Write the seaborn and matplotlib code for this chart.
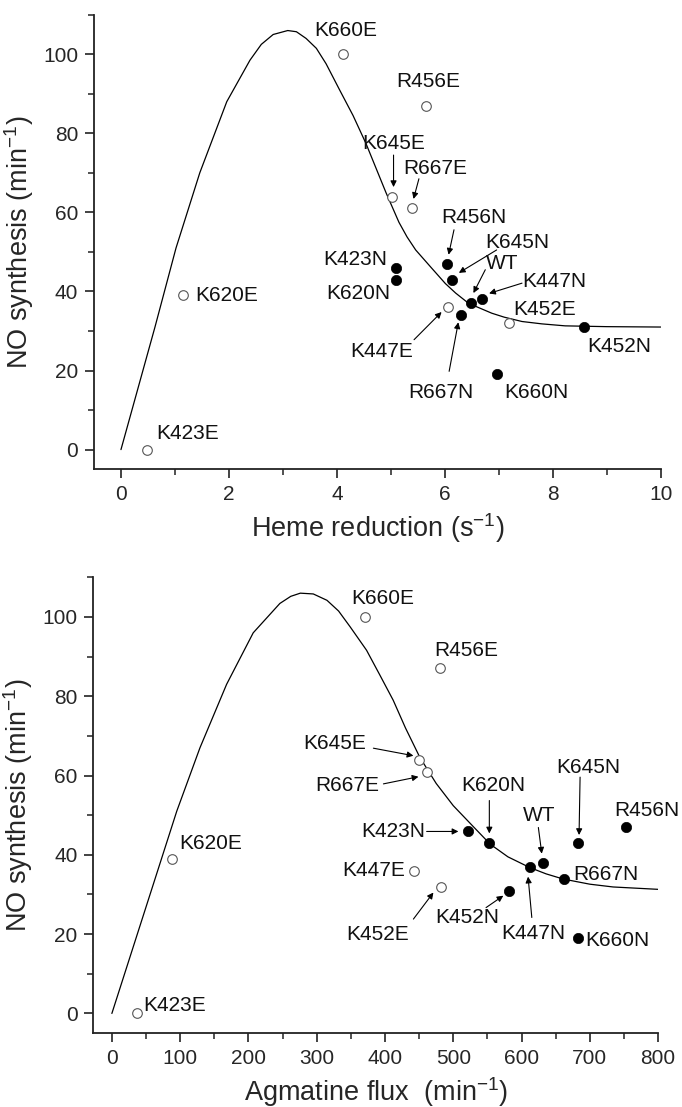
import matplotlib
matplotlib.use("Agg")
import matplotlib.pyplot as plt
import seaborn as sns
from matplotlib.ticker import MultipleLocator

# ---------------- data ----------------
# Top panel: heme reduction (s^-1) vs NO synthesis (min^-1)
top_E_labels = ['K423E', 'K620E', 'K660E', 'R456E', 'K645E', 'R667E', 'K447E', 'K452E']
top_E_x = [0.48, 1.15, 4.11, 5.65, 5.03, 5.40, 6.06, 7.19]
top_E_y = [0, 39, 100, 87, 64, 61, 36, 32]

top_N_labels = ['K423N', 'K620N', 'R456N', 'K645N', 'WT', 'K447N', 'R667N', 'K660N', 'K452N']
top_N_x = [5.09, 5.09, 6.04, 6.13, 6.49, 6.68, 6.30, 6.96, 8.57]
top_N_y = [46, 43, 47, 43, 37, 38, 34, 19, 31]

top_curve_x = [0, 0.63, 1.02, 1.46, 1.96, 2.39, 2.60, 2.82, 3.09, 3.25, 3.43, 3.62,
               3.80, 4.05, 4.30, 4.54, 4.91, 5.15, 5.30, 5.46, 5.75, 6.01, 6.20,
               6.44, 6.87, 7.10, 7.43, 7.80, 8.23, 9.0, 10.0]
top_curve_y = [0, 31, 51, 70, 88, 98.5, 102.5, 105, 106, 105.7, 104, 101.5,
               97.6, 91, 84.5, 77.4, 65, 57.5, 53.8, 50.5, 46, 42, 39.6,
               37, 34.5, 33.5, 32.4, 31.8, 31.3, 31.1, 31]

# Bottom panel: agmatine flux (min^-1) vs NO synthesis (min^-1)
bot_E_labels = ['K423E', 'K620E', 'K660E', 'R456E', 'K645E', 'R667E', 'K447E', 'K452E']
bot_E_x = [37, 88, 371, 481, 450, 461, 442, 482]
bot_E_y = [0, 39, 100, 87, 64, 61, 36, 32]

bot_N_labels = ['K423N', 'K620N', 'R456N', 'K645N', 'WT', 'K447N', 'R667N', 'K660N', 'K452N']
bot_N_x = [521, 552, 753, 682, 632, 612, 662, 682, 582]
bot_N_y = [46, 43, 47, 43, 38, 37, 34, 19, 31]

bot_curve_x = [0, 95, 129, 168, 207, 246, 262, 276, 295, 315, 332, 349, 373, 392,
               412, 430, 451, 475, 500, 530, 554, 580, 612, 636, 661, 700, 734, 800]
bot_curve_y = [0, 51, 67, 83, 96, 103.4, 105.2, 106, 105.8, 104.2, 101.5, 97.5,
               91.6, 85.5, 79, 72, 64.6, 58, 52.4, 47, 42.7, 39.5, 36.8, 35.2,
               33.9, 32.6, 31.9, 31.3]

# ---------------- style ----------------
sns.set_theme(style="ticks")
plt.rcParams['font.family'] = ['Liberation Sans', 'DejaVu Sans']
plt.rcParams['mathtext.fontset'] = 'custom'
plt.rcParams['mathtext.rm'] = 'Liberation Sans'
plt.rcParams['mathtext.it'] = 'Liberation Sans:italic'
plt.rcParams['axes.unicode_minus'] = False

LABEL_FS = 15
TICK_FS = 15
AXIS_FS = 19.5

fig = plt.figure(figsize=(6.82, 11.07), dpi=100)
ax1 = fig.add_axes([0.1378, 0.576, 0.831, 0.4107])
ax2 = fig.add_axes([0.137, 0.0666, 0.828, 0.4119])


def style_axis(ax):
    for s in ['top', 'right']:
        ax.spines[s].set_visible(False)
    for s in ['left', 'bottom']:
        ax.spines[s].set_linewidth(1.3)
        ax.spines[s].set_color('#222222')
    ax.tick_params(which='major', direction='out', length=6.5, width=1.2,
                   labelsize=TICK_FS, pad=5, color='#222222')
    ax.tick_params(which='minor', direction='out', length=4, width=1.1, color='#222222')
    ax.set_ylim(-5, 110)
    ax.yaxis.set_major_locator(MultipleLocator(20))
    ax.yaxis.set_minor_locator(MultipleLocator(10))
    ax.set_ylabel('NO synthesis (min$^{-1}$)', fontsize=AXIS_FS, labelpad=5)


def draw_points(ax, ex, ey, nx, ny, cx, cy):
    sns.lineplot(x=cx, y=cy, sort=False, estimator=None, color='black',
                 linewidth=0.9, ax=ax, zorder=1)
    sns.scatterplot(x=ex, y=ey, ax=ax, marker='o', s=48, facecolor='white',
                    edgecolor='#555555', linewidth=0.8, zorder=3)
    sns.scatterplot(x=nx, y=ny, ax=ax, marker='o', s=55, color='black',
                    edgecolor='black', linewidth=0.5, zorder=3)


def arrow(ax, tail, tip):
    ax.annotate('', xy=tip, xytext=tail,
                arrowprops=dict(arrowstyle='-|>', color='black', lw=0.8,
                                mutation_scale=9, shrinkA=0, shrinkB=0),
                zorder=2)


def label(ax, text, x, y, ha='center'):
    ax.text(x, y, text, fontsize=LABEL_FS, ha=ha, va='center', color='#111111')


# ---------------- top panel ----------------
draw_points(ax1, top_E_x, top_E_y, top_N_x, top_N_y, top_curve_x, top_curve_y)
style_axis(ax1)
ax1.set_xlim(-0.5, 10)
ax1.xaxis.set_major_locator(MultipleLocator(2))
ax1.xaxis.set_minor_locator(MultipleLocator(1))
ax1.set_xlabel('Heme reduction (s$^{-1}$)', fontsize=AXIS_FS, labelpad=5)

label(ax1, 'K660E', 4.16, 106)
label(ax1, 'R456E', 5.70, 93)
label(ax1, 'K645E', 5.06, 77.5)
arrow(ax1, (5.05, 74.5), (5.05, 66.4))
label(ax1, 'R667E', 5.83, 71.2)
arrow(ax1, (5.52, 68.5), (5.42, 63.4))
label(ax1, 'K620E', 1.37, 38.9, ha='left')
label(ax1, 'K423E', 1.23, 4)
label(ax1, 'K423N', 4.34, 48)
label(ax1, 'K620N', 4.40, 39.4)
label(ax1, 'R456N', 6.54, 58.6)
arrow(ax1, (6.17, 55.6), (6.07, 49.3))
label(ax1, 'K645N', 7.35, 52.3)
arrow(ax1, (6.96, 50.5), (6.26, 44.7))
label(ax1, 'WT', 7.07, 47.1)
arrow(ax1, (6.75, 45.5), (6.53, 39.6))
label(ax1, 'K447N', 8.03, 42.5)
arrow(ax1, (7.43, 42.1), (6.82, 39.5))
label(ax1, 'K452E', 7.84, 35.5)
label(ax1, 'K452N', 9.23, 26.1)
label(ax1, 'K660N', 7.69, 14.5)
label(ax1, 'R667N', 5.92, 14.5)
arrow(ax1, (6.08, 19.8), (6.25, 32.2))
label(ax1, 'K447E', 4.83, 24.8)
arrow(ax1, (5.43, 27.8), (5.94, 34.8))

# ---------------- bottom panel ----------------
draw_points(ax2, bot_E_x, bot_E_y, bot_N_x, bot_N_y, bot_curve_x, bot_curve_y)
style_axis(ax2)
ax2.set_xlim(-27, 800)
ax2.xaxis.set_major_locator(MultipleLocator(100))
ax2.xaxis.set_minor_locator(MultipleLocator(50))
ax2.set_xlabel('Agmatine flux  (min$^{-1}$)', fontsize=AXIS_FS, labelpad=5)

label(ax2, 'K660E', 396.5, 104.7)
label(ax2, 'R456E', 519, 91.5)
label(ax2, 'K645E', 327, 68)
arrow(ax2, (383, 66.9), (441.6, 65))
label(ax2, 'R667E', 344, 57.5)
arrow(ax2, (397.7, 57.9), (449, 59.7))
label(ax2, 'K620E', 145, 42.9)
label(ax2, 'K423E', 91.3, 2.1)
label(ax2, 'K447E', 430, 36, ha='right')
label(ax2, 'K452E', 389, 20)
arrow(ax2, (441.6, 23.8), (470.9, 30.5))
label(ax2, 'K423N', 458.7, 45.9, ha='right')
arrow(ax2, (461, 45.9), (507.5, 45.9))
label(ax2, 'K620N', 558.7, 57.5)
arrow(ax2, (552.8, 53.7), (552.8, 45.4))
label(ax2, 'WT', 625.6, 49.9)
arrow(ax2, (624.6, 46.9), (629.6, 40.3))
label(ax2, 'K645N', 697.4, 62.1)
arrow(ax2, (685.7, 59.6), (684.2, 45.0))
label(ax2, 'R456N', 783, 51.3)
label(ax2, 'R667N', 676, 35, ha='left')
label(ax2, 'K452N', 519.8, 24.2)
arrow(ax2, (548, 26.7), (573.3, 29.7))
label(ax2, 'K447N', 617.3, 20.1)
arrow(ax2, (615, 24.2), (609.5, 34.5))
label(ax2, 'K660N', 693, 18.5, ha='left')

fig.savefig('out.png', dpi=100)
